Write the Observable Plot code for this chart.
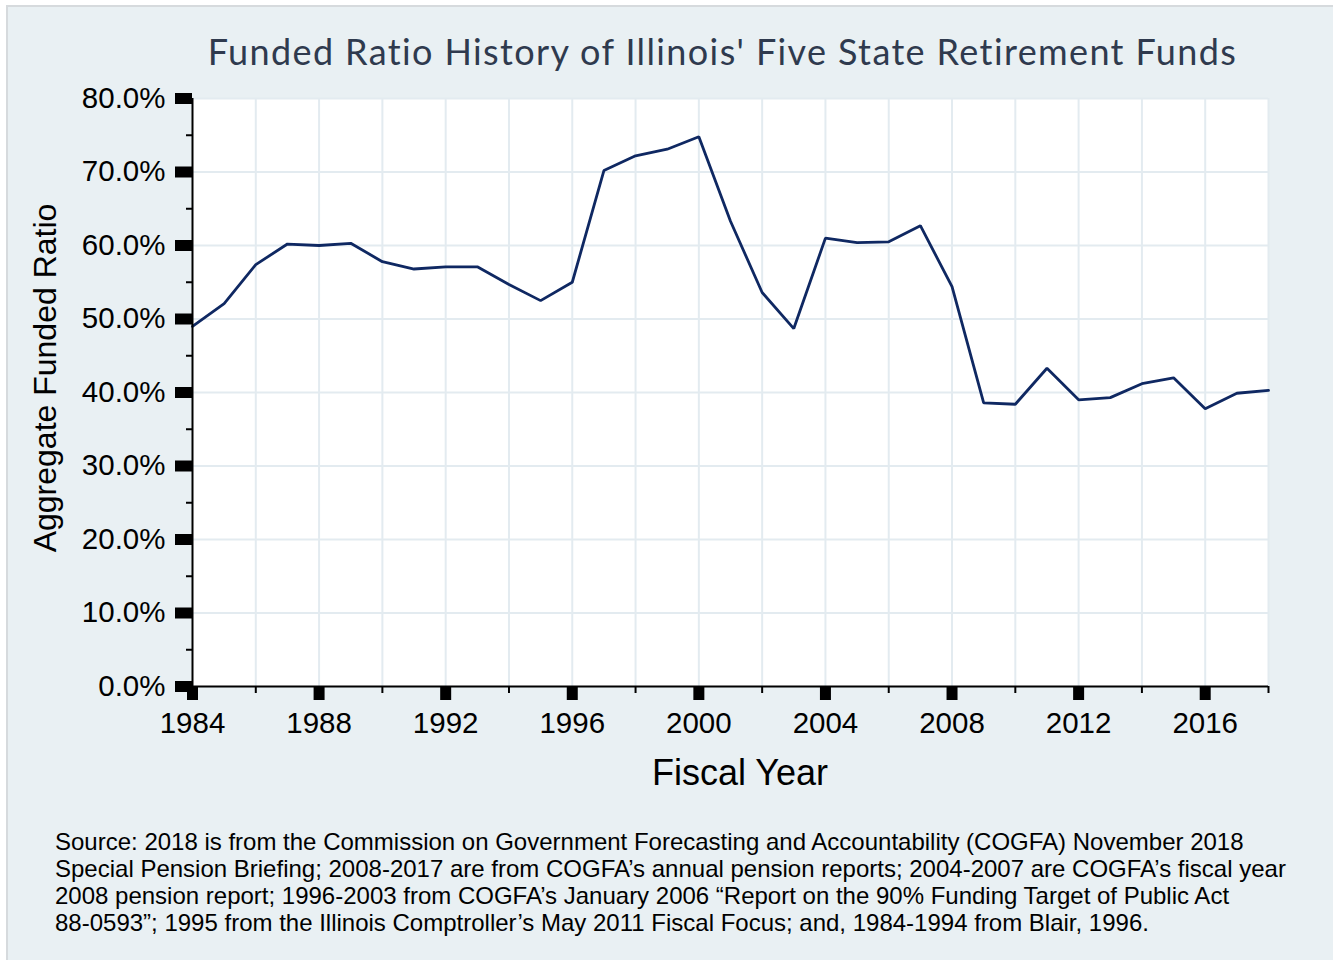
<!DOCTYPE html>
<html><head><meta charset="utf-8">
<script src="https://cdn.jsdelivr.net/npm/d3@7"></script>
<script src="https://cdn.jsdelivr.net/npm/@observablehq/plot@0.6"></script>
<style>
html,body{margin:0;padding:0;background:#fff;width:1333px;height:960px;overflow:hidden;position:relative;}
#panel{position:absolute;left:6px;top:5px;width:1327px;height:955px;background:#e9f0f3;border-left:2px solid #d6dadd;border-top:2px solid #d6dadd;box-sizing:border-box;}
#chart{position:absolute;left:0;top:0;}
#title{position:absolute;left:0;top:33px;width:1445px;text-align:center;font-family:Lato,"Open Sans",sans-serif;font-size:36px;line-height:36px;color:#2f3a4e;white-space:nowrap;}
#xlab{position:absolute;left:0;top:755px;width:1480px;text-align:center;font-family:"Liberation Sans",Arial,sans-serif;font-size:36px;line-height:36px;color:#000;white-space:nowrap;}
#ylabAnchor{position:absolute;left:61px;top:378px;width:0;height:0;transform:rotate(-90deg);}
#ylab{position:absolute;left:-300px;width:600px;bottom:0;text-align:center;font-family:"Liberation Sans",Arial,sans-serif;font-size:32px;line-height:32px;color:#000;white-space:nowrap;}
#caption{position:absolute;left:55px;top:828px;font-family:"Liberation Sans",Arial,sans-serif;font-size:23px;line-height:27px;color:#000;}
#caption div{white-space:nowrap;}
</style></head>
<body>
<div id="panel"></div>
<div id="chart"></div>
<div id="title">Funded Ratio History of Illinois' Five State Retirement Funds</div>
<div id="xlab">Fiscal Year</div>
<div id="ylabAnchor"><div id="ylab">Aggregate Funded Ratio</div></div>
<div id="caption"></div>
<script>
const years = [1984,1985,1986,1987,1988,1989,1990,1991,1992,1993,1994,1995,1996,1997,1998,1999,2000,2001,2002,2003,2004,2005,2006,2007,2008,2009,2010,2011,2012,2013,2014,2015,2016,2017,2018];
const ratios = [49.0,52.1,57.4,60.2,60.0,60.3,57.8,56.8,57.1,57.1,54.7,52.5,55.0,70.2,72.2,73.1,74.8,63.3,53.6,48.7,61.0,60.4,60.5,62.7,54.4,38.6,38.4,43.3,39.0,39.3,41.2,42.0,37.8,39.9,40.3];
const yMajorTicks = [0,10,20,30,40,50,60,70,80];
const yMinorTicks = [5,15,25,35,45,55,65,75];
const xMajorTicks = [1984,1988,1992,1996,2000,2004,2008,2012,2016];
const xMinorTicks = [1986,1990,1994,1998,2002,2006,2010,2014,2018];
const xGridTicks = [1986,1988,1990,1992,1994,1996,1998,2000,2002,2004,2006,2008,2010,2012,2014,2016,2018];
const yGridTicks = [10,20,30,40,50,60,70,80];
const captionLines = [
  "Source: 2018 is from the Commission on Government Forecasting and Accountability (COGFA) November 2018",
  "Special Pension Briefing; 2008-2017 are from COGFA\u2019s annual pension reports; 2004-2007 are COGFA\u2019s fiscal year",
  "2008 pension report; 1996-2003 from COGFA\u2019s January 2006 \u201cReport on the 90% Funding Target of Public Act",
  "88-0593\u201d; 1995 from the Illinois Comptroller\u2019s May 2011 Fiscal Focus; and, 1984-1994 from Blair, 1996."
];

const data = years.map((y, i) => ({year: y, ratio: ratios[i]}));

const chart = Plot.plot({
  width: 1333,
  height: 760,
  marginLeft: 192,
  marginRight: 65,
  marginTop: 98,
  marginBottom: 74,
  style: {background: "transparent", fontFamily: "'Liberation Sans', Arial, sans-serif", fontSize: "29.5px", color: "#000", overflow: "visible"},
  x: {domain: [1984, 2018]},
  y: {domain: [0, 80]},
  marks: [
    Plot.frame({fill: "white", stroke: "none"}),
    Plot.gridX(xGridTicks, {stroke: "#e3ebf0", strokeOpacity: 1, strokeWidth: 2}),
    Plot.gridY(yGridTicks, {stroke: "#e3ebf0", strokeOpacity: 1, strokeWidth: 2}),
    Plot.line(data, {x: "year", y: "ratio", stroke: "#0f2862", strokeWidth: 2.8, strokeLinejoin: "miter"}),
    Plot.ruleX([1984], {stroke: "#000", strokeWidth: 2}),
    Plot.ruleY([0], {stroke: "#000", strokeWidth: 2}),
    Plot.axisY(yMinorTicks, {anchor: "left", tickSize: 6, strokeWidth: 2, text: null, label: null}),
    Plot.axisY(yMajorTicks, {anchor: "left", tickSize: 17, tickPadding: 10, strokeWidth: 11, tickFormat: d => d.toFixed(1) + "%", label: null}),
    Plot.axisX(xMinorTicks, {anchor: "bottom", tickSize: 7, strokeWidth: 2, text: null, label: null}),
    Plot.axisX(xMajorTicks, {anchor: "bottom", tickSize: 14, tickPadding: 12, strokeWidth: 11, tickFormat: d => String(d), label: null})
  ]
});
document.getElementById("chart").appendChild(chart);

// caption
const cap = document.getElementById("caption");
captionLines.forEach(t => { const d = document.createElement("div"); d.textContent = t; cap.appendChild(d); });

// fit title width to reference (~1031px)
const title = document.getElementById("title");
const cv = document.createElement("canvas").getContext("2d");
cv.font = "36px Lato";
const w = cv.measureText(title.textContent).width;
const n = title.textContent.length - 1;
title.style.letterSpacing = ((1031 - w) / n).toFixed(3) + "px";

// fit caption font to width of first line (~1190px)
cv.font = "23px 'Liberation Sans'";
const cw = cv.measureText(captionLines[0]).width;
cap.style.fontSize = (23 * 1190 / cw).toFixed(2) + "px";
</script>
</body></html>
